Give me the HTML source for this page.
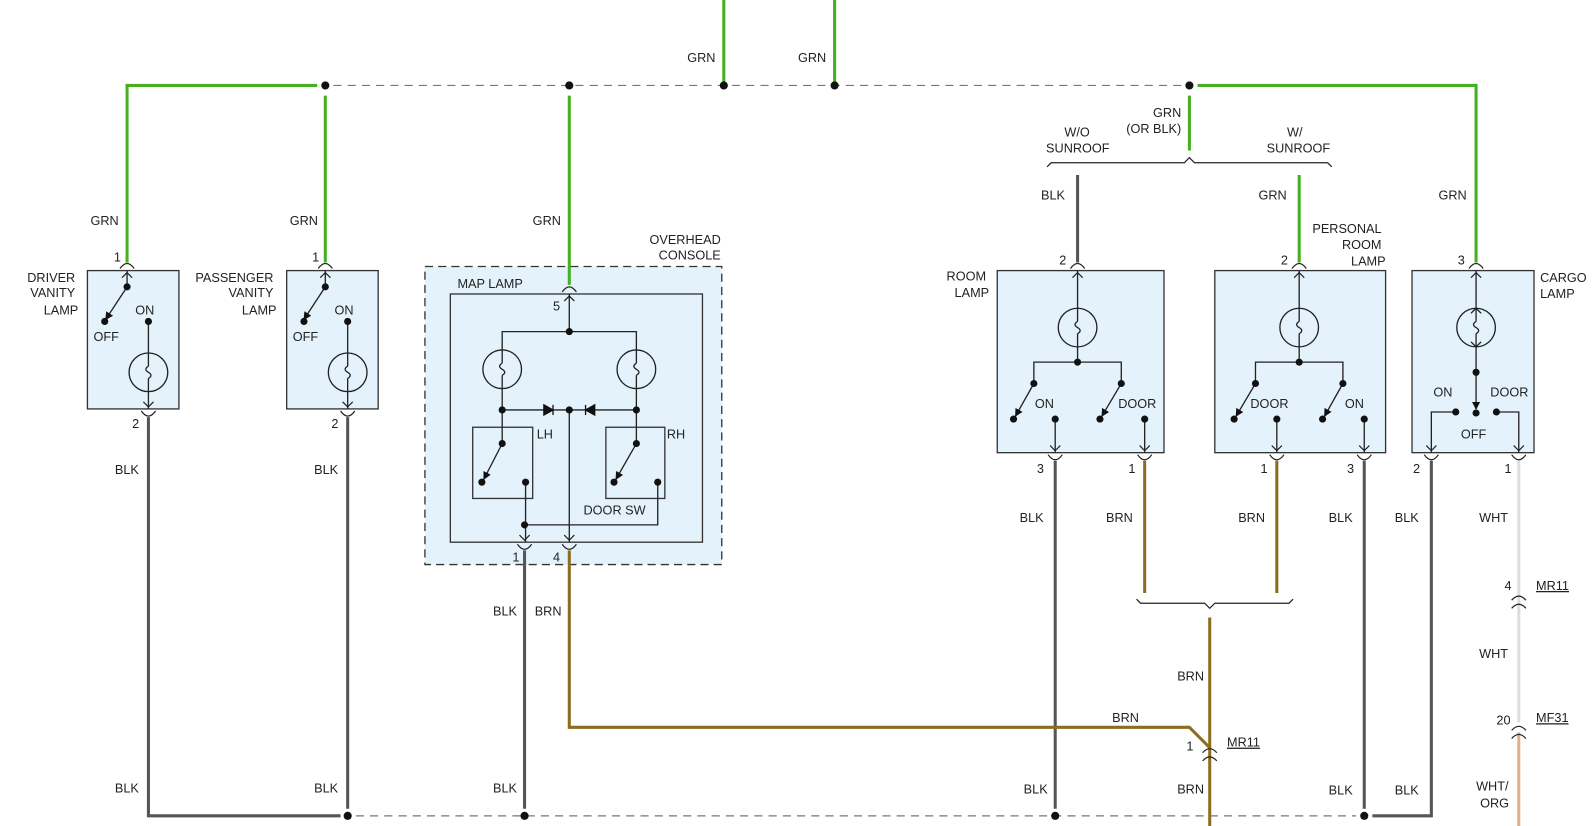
<!DOCTYPE html>
<html><head><meta charset="utf-8"><style>
html,body{margin:0;padding:0;background:#fff;}
svg{display:block;}
text{font-family:"Liberation Sans",sans-serif;font-size:12.5px;fill:#222;}
</style></head><body>
<svg width="1594" height="826" viewBox="0 0 1568 812" preserveAspectRatio="none" xmlns="http://www.w3.org/2000/svg">
<defs>
<marker id="ah" markerWidth="8" markerHeight="8" refX="7" refY="4" orient="auto" markerUnits="userSpaceOnUse"><path d="M0,0 L8,4 L0,8 Z" fill="#111"/></marker>
</defs>
<g fill="#e4f3fb" stroke="#333" stroke-width="1.3">
<rect x="86" y="266" width="90" height="136"/>
<rect x="282" y="266" width="90" height="136"/>
<rect x="418" y="262" width="292" height="293" stroke-dasharray="8,5"/>
<rect x="443" y="289" width="248" height="244"/>
<rect x="465" y="420" width="59" height="70"/>
<rect x="596" y="420" width="58" height="70"/>
<rect x="981" y="266" width="164" height="179"/>
<rect x="1195" y="266" width="168" height="179"/>
<rect x="1389" y="266" width="120" height="179"/>
</g>
<g fill="none" stroke-width="3">
<path d="M125,258 V84 H312" stroke="#46b020"/>
<path d="M320,94 V258" stroke="#46b020"/>
<path d="M560,94 V280" stroke="#46b020"/>
<path d="M712,0 V84" stroke="#46b020"/>
<path d="M821,0 V84" stroke="#46b020"/>
<path d="M1178,84 H1452 V258" stroke="#46b020"/>
<path d="M1170,94 V148" stroke="#46b020"/>
<path d="M1278,172 V258" stroke="#46b020"/>
<path d="M1060,172 V258" stroke="#555"/>
<path d="M146,410 V802 H335" stroke="#555"/>
<path d="M342,410 V795" stroke="#555"/>
<path d="M516,541 V795" stroke="#555"/>
<path d="M1038,453 V795" stroke="#555"/>
<path d="M1342,453 V795" stroke="#555"/>
<path d="M1350,802 H1408 V453" stroke="#555"/>
<path d="M560,541 V715 H1170 L1190,735" stroke="#8a6d1e"/>
<path d="M1190,607 V812" stroke="#8a6d1e"/>
<path d="M1126,453 V583" stroke="#8a6d1e"/>
<path d="M1256,453 V583" stroke="#8a6d1e"/>
<path d="M1494,453 V710" stroke="#ddd"/>
<path d="M1494,720 V812" stroke="#e0b080"/>
</g>
<g stroke="#777" stroke-width="1.2" stroke-dasharray="8,6" fill="none">
<path d="M328,84 H1162"/>
<path d="M350,802 H1334"/>
</g>
<g fill="#111">
<circle cx="320" cy="84" r="4"/><circle cx="560" cy="84" r="4"/><circle cx="712" cy="84" r="4"/><circle cx="821" cy="84" r="4"/><circle cx="1170" cy="84" r="4"/>
<circle cx="342" cy="802" r="4"/><circle cx="516" cy="802" r="4"/><circle cx="1038" cy="802" r="4"/><circle cx="1342" cy="802" r="4"/>
</g>
<g fill="none" stroke="#222" stroke-width="1.2">
<path d="M1030,164 L1034,160 H1165 L1170,155 L1175,160 H1306 L1310,164"/>
<path d="M1118,589 L1122,593 H1185 L1190,598 L1195,593 H1268 L1272,589"/>
</g>
<g fill="none" stroke="#222" stroke-width="1.2">
<path d="M118,264 Q125,254 132,264 M120,273 L125,268 L130,273"/>
<path d="M313,264 Q320,254 327,264 M315,273 L320,268 L325,273"/>
<path d="M139,404 Q146,414 153,404 M141,395 L146,400 L151,395"/>
<path d="M335,404 Q342,414 349,404 M337,395 L342,400 L347,395"/>
<path d="M553,287 Q560,277 567,287 M555,296 L560,291 L565,296"/>
<path d="M509,535 Q516,545 523,535 M511,526 L516,531 L521,526"/>
<path d="M553,535 Q560,545 567,535 M555,526 L560,531 L565,526"/>
<path d="M1053,264 Q1060,254 1067,264 M1055,273 L1060,268 L1065,273"/>
<path d="M1271,264 Q1278,254 1285,264 M1273,273 L1278,268 L1283,273"/>
<path d="M1445,264 Q1452,254 1459,264 M1447,273 L1452,268 L1457,273"/>
<path d="M1031,447 Q1038,457 1045,447 M1033,438 L1038,443 L1043,438"/>
<path d="M1119,447 Q1126,457 1133,447 M1121,438 L1126,443 L1131,438"/>
<path d="M1249,447 Q1256,457 1263,447 M1251,438 L1256,443 L1261,438"/>
<path d="M1335,447 Q1342,457 1349,447 M1337,438 L1342,443 L1347,438"/>
<path d="M1401,447 Q1408,457 1415,447 M1403,438 L1408,443 L1413,438"/>
<path d="M1487,447 Q1494,457 1501,447 M1489,438 L1494,443 L1499,438"/>
<path d="M1183,740 Q1190,732 1197,740 M1183,748 Q1190,740 1197,748"/>
<path d="M1487,590 Q1494,582 1501,590 M1487,598 Q1494,590 1501,598"/>
<path d="M1487,718 Q1494,710 1501,718 M1487,726 Q1494,718 1501,726"/>
</g>
<g fill="none" stroke="#222" stroke-width="1.3">
<path d="M125,266 V282"/><path d="M125,282 L104,314" marker-end="url(#ah)"/>
<path d="M146,316 V347 M146,385 V402"/>
<circle cx="146" cy="366" r="19"/>
<path d="M146,347 V360 M146,372 V385 M146,360 q-5,3 0,6 q5,3 0,6"/>
<path d="M320,266 V282"/><path d="M320,282 L299,314" marker-end="url(#ah)"/>
<path d="M342,316 V347 M342,385 V402"/>
<circle cx="342" cy="366" r="19"/>
<path d="M342,347 V360 M342,372 V385 M342,360 q-5,3 0,6 q5,3 0,6"/>
<path d="M560,289 V326 M494,344 V326 H626 V344"/>
<circle cx="494" cy="363" r="19"/><circle cx="626" cy="363" r="19"/>
<path d="M494,344 V357 M494,369 V382 M494,357 q-5,3 0,6 q5,3 0,6"/>
<path d="M626,344 V357 M626,369 V382 M626,357 q-5,3 0,6 q5,3 0,6"/>
<path d="M494,382 V436 M626,382 V436 M494,403 H626 M560,403 V533"/>
<path d="M494,436 L476,471" marker-end="url(#ah)"/>
<path d="M626,436 L606,471" marker-end="url(#ah)"/>
<path d="M517,474 V533 M516,516 H647 V474"/>
<path d="M1060,266 V303 M1060,341 V356 M1017,377 V356 H1103 V377 M1038,412 V445 M1126,412 V445"/>
<circle cx="1060" cy="322" r="19"/>
<path d="M1060,303 V316 M1060,328 V341 M1060,316 q-5,3 0,6 q5,3 0,6"/>
<path d="M1017,377 L999,409" marker-end="url(#ah)"/>
<path d="M1103,377 L1084,409" marker-end="url(#ah)"/>
<path d="M1278,266 V303 M1278,341 V356 M1235,377 V356 H1321 V377 M1256,412 V445 M1342,412 V445"/>
<circle cx="1278" cy="322" r="19"/>
<path d="M1278,303 V316 M1278,328 V341 M1278,316 q-5,3 0,6 q5,3 0,6"/>
<path d="M1235,377 L1216,409" marker-end="url(#ah)"/>
<path d="M1321,377 L1303,409" marker-end="url(#ah)"/>
<path d="M1452,266 V303 M1452,341 V366"/>
<circle cx="1452" cy="322" r="19"/>
<path d="M1452,303 V316 M1452,328 V341 M1452,316 q-5,3 0,6 q5,3 0,6 M1447,308 L1452,303 L1457,308 M1447,336 L1452,341 L1457,336"/>
<path d="M1452,366 V402" marker-end="url(#ah)"/>
<path d="M1432,405 H1408 V445 M1472,405 H1494 V445"/>
</g>
<g fill="#111" stroke="none">
<circle cx="125" cy="282" r="3.5"/><circle cx="103" cy="316" r="3.5"/><circle cx="146" cy="316" r="3.5"/>
<circle cx="320" cy="282" r="3.5"/><circle cx="299" cy="316" r="3.5"/><circle cx="342" cy="316" r="3.5"/>
<circle cx="560" cy="326" r="3.5"/><circle cx="494" cy="403" r="3.5"/><circle cx="626" cy="403" r="3.5"/><circle cx="560" cy="403" r="3.5"/>
<circle cx="494" cy="436" r="3.5"/><circle cx="474" cy="474" r="3.5"/><circle cx="517" cy="474" r="3.5"/>
<circle cx="626" cy="436" r="3.5"/><circle cx="604" cy="474" r="3.5"/><circle cx="647" cy="474" r="3.5"/><circle cx="516" cy="516" r="3.5"/>
<path d="M535,398 L544,403 L535,408 Z M544,398 V408" stroke="#111" stroke-width="1.3"/>
<path d="M585,398 L576,403 L585,408 Z M576,398 V408" stroke="#111" stroke-width="1.3"/>
<circle cx="1060" cy="356" r="3.5"/><circle cx="1017" cy="377" r="3.5"/><circle cx="1103" cy="377" r="3.5"/>
<circle cx="997" cy="412" r="3.5"/><circle cx="1038" cy="412" r="3.5"/><circle cx="1082" cy="412" r="3.5"/><circle cx="1126" cy="412" r="3.5"/>
<circle cx="1278" cy="356" r="3.5"/><circle cx="1235" cy="377" r="3.5"/><circle cx="1321" cy="377" r="3.5"/>
<circle cx="1214" cy="412" r="3.5"/><circle cx="1256" cy="412" r="3.5"/><circle cx="1301" cy="412" r="3.5"/><circle cx="1342" cy="412" r="3.5"/>
<circle cx="1452" cy="366" r="3.5"/><circle cx="1452" cy="406" r="3.5"/><circle cx="1432" cy="405" r="3.5"/><circle cx="1472" cy="405" r="3.5"/>
</g>
<g>
<text x="676" y="61">GRN</text><text x="785" y="61">GRN</text>
<text x="89" y="221">GRN</text><text x="285" y="221">GRN</text><text x="524" y="221">GRN</text>
<text x="112" y="257">1</text><text x="307" y="257">1</text>
<text x="74" y="277" text-anchor="end">DRIVER</text><text x="74" y="292" text-anchor="end">VANITY</text><text x="77" y="309" text-anchor="end">LAMP</text>
<text x="269" y="277" text-anchor="end">PASSENGER</text><text x="269" y="292" text-anchor="end">VANITY</text><text x="272" y="309" text-anchor="end">LAMP</text>
<text x="133" y="309">ON</text><text x="92" y="335">OFF</text>
<text x="329" y="309">ON</text><text x="288" y="335">OFF</text>
<text x="130" y="421">2</text><text x="326" y="421">2</text>
<text x="113" y="466">BLK</text><text x="309" y="466">BLK</text>
<text x="113" y="779">BLK</text><text x="309" y="779">BLK</text><text x="485" y="779">BLK</text>
<text x="709" y="240" text-anchor="end">OVERHEAD</text><text x="709" y="255" text-anchor="end">CONSOLE</text>
<text x="450" y="283">MAP LAMP</text><text x="544" y="305">5</text>
<text x="528" y="431">LH</text><text x="656" y="431">RH</text><text x="574" y="506">DOOR SW</text>
<text x="504" y="552">1</text><text x="544" y="552">4</text>
<text x="485" y="605">BLK</text><text x="526" y="605">BRN</text>
<text x="1162" y="115" text-anchor="end">GRN</text><text x="1162" y="131" text-anchor="end">(OR BLK)</text>
<text x="1047" y="134">W/O</text><text x="1029" y="150">SUNROOF</text>
<text x="1266" y="134">W/</text><text x="1246" y="150">SUNROOF</text>
<text x="1024" y="196">BLK</text><text x="1238" y="196">GRN</text><text x="1415" y="196">GRN</text>
<text x="1359" y="229" text-anchor="end">PERSONAL</text><text x="1359" y="245" text-anchor="end">ROOM</text><text x="1363" y="261" text-anchor="end">LAMP</text>
<text x="970" y="276" text-anchor="end">ROOM</text><text x="973" y="292" text-anchor="end">LAMP</text>
<text x="1515" y="277">CARGO</text><text x="1515" y="293">LAMP</text>
<text x="1042" y="260">2</text><text x="1260" y="260">2</text><text x="1434" y="260">3</text>
<text x="1018" y="401">ON</text><text x="1100" y="401">DOOR</text>
<text x="1230" y="401">DOOR</text><text x="1323" y="401">ON</text>
<text x="1410" y="390">ON</text><text x="1466" y="390">DOOR</text><text x="1437" y="431">OFF</text>
<text x="1020" y="465">3</text><text x="1110" y="465">1</text><text x="1240" y="465">1</text><text x="1325" y="465">3</text><text x="1390" y="465">2</text><text x="1480" y="465">1</text>
<text x="1003" y="513">BLK</text><text x="1088" y="513">BRN</text><text x="1218" y="513">BRN</text><text x="1307" y="513">BLK</text><text x="1372" y="513">BLK</text><text x="1455" y="513">WHT</text>
<text x="1480" y="580">4</text><text x="1511" y="580" text-decoration="underline">MR11</text>
<text x="1455" y="647">WHT</text>
<text x="1472" y="712">20</text><text x="1511" y="710" text-decoration="underline">MF31</text>
<text x="1452" y="777">WHT/</text><text x="1456" y="794">ORG</text>
<text x="1158" y="669">BRN</text><text x="1094" y="710">BRN</text>
<text x="1167" y="738">1</text><text x="1207" y="734" text-decoration="underline">MR11</text>
<text x="1158" y="780">BRN</text>
<text x="1007" y="780">BLK</text><text x="1307" y="781">BLK</text><text x="1372" y="781">BLK</text>
</g>
</svg>
</body></html>
